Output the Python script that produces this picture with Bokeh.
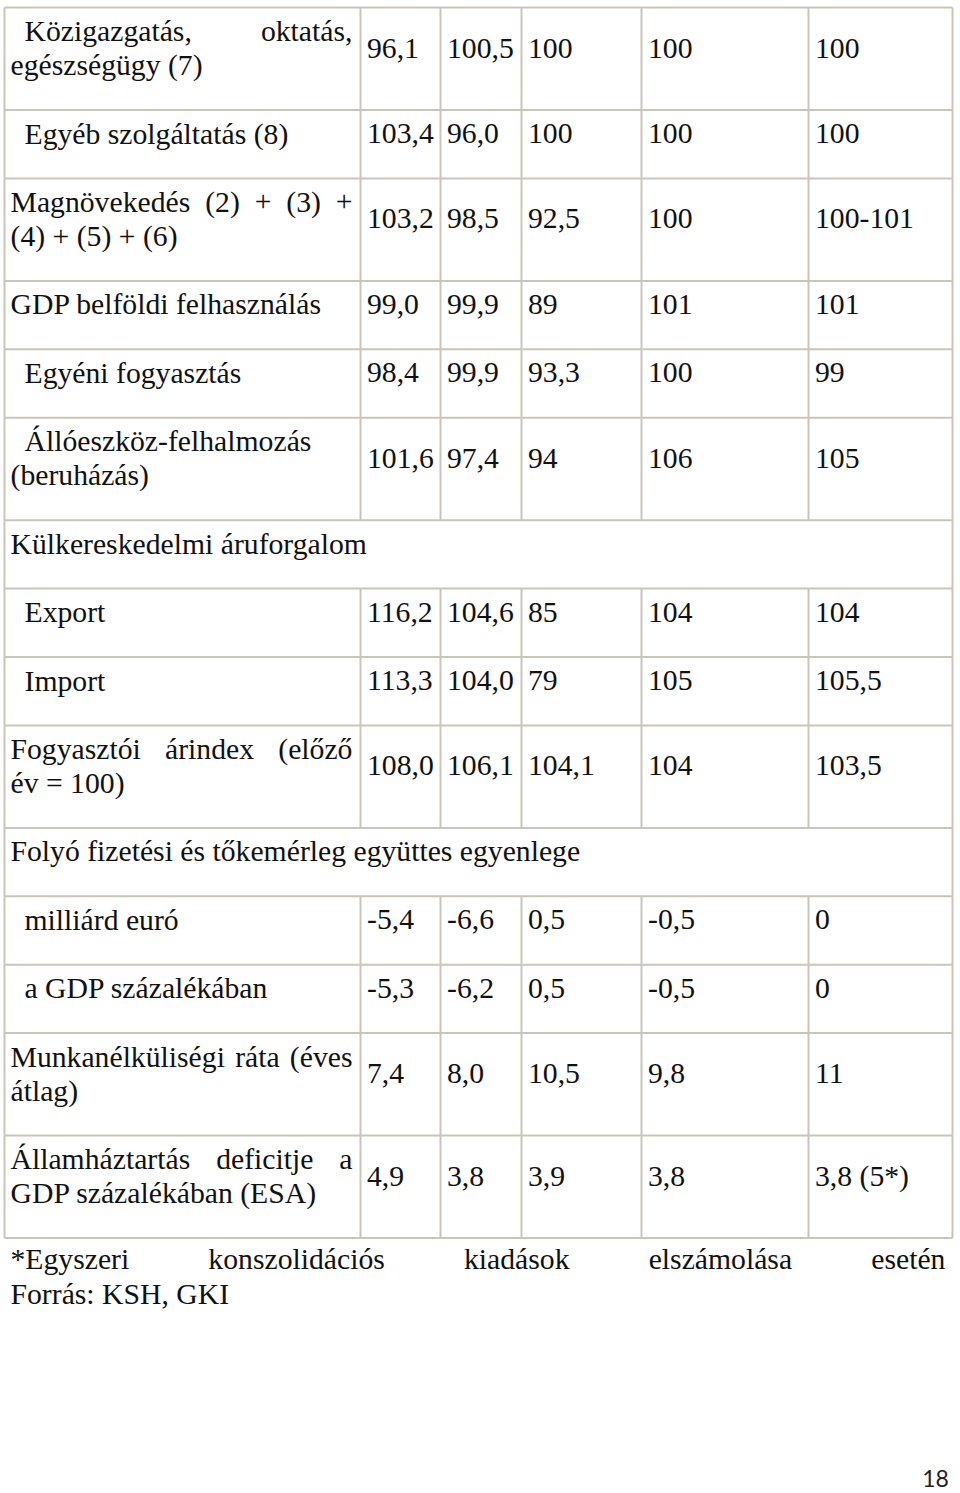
import unicodedata
from bokeh.plotting import figure
from bokeh.models import Range1d, ColumnDataSource
from bokeh.core.properties import value
from bokeh.embed import file_html
from bokeh.resources import INLINE

# ---------------- data ----------------
row_labels = [
    "Közigazgatás, oktatás,\negészségügy (7)",
    "Egyéb szolgáltatás (8)",
    "Magnövekedés (2) + (3) +\n(4) + (5) + (6)",
    "GDP belföldi felhasználás",
    "Egyéni fogyasztás",
    "Állóeszköz-felhalmozás\n(beruházás)",
    "Külkereskedelmi áruforgalom",
    "Export",
    "Import",
    "Fogyasztói árindex (előző\név = 100)",
    "Folyó fizetési és tőkemérleg együttes egyenlege",
    "milliárd euró",
    "a GDP százalékában",
    "Munkanélküliségi ráta (éves\nátlag)",
    "Államháztartás deficitje a\nGDP százalékában (ESA)",
]
row_indent = [1, 1, 0, 0, 1, 1, 0, 1, 1, 0, 0, 1, 1, 0, 0]
row_span = [0, 0, 0, 0, 0, 0, 1, 0, 0, 0, 1, 0, 0, 0, 0]
col_1 = ["96,1", "103,4", "103,2", "99,0", "98,4", "101,6", "", "116,2", "113,3", "108,0", "", "-5,4", "-5,3", "7,4", "4,9"]
col_2 = ["100,5", "96,0", "98,5", "99,9", "99,9", "97,4", "", "104,6", "104,0", "106,1", "", "-6,6", "-6,2", "8,0", "3,8"]
col_3 = ["100", "100", "92,5", "89", "93,3", "94", "", "85", "79", "104,1", "", "0,5", "0,5", "10,5", "3,9"]
col_4 = ["100", "100", "100", "101", "100", "106", "", "104", "105", "104", "", "-0,5", "-0,5", "9,8", "3,8"]
col_5 = ["100", "100", "100-101", "101", "99", "105", "", "104", "105,5", "103,5", "", "0", "0", "11", "3,8 (5*)"]
footnote = "*Egyszeri konszolidációs kiadások elszámolása esetén"
source_note = "Forrás: KSH, GKI"
page_number = "18"

# ---------------- layout ----------------
FONT = "Liberation Serif"
FS = 29.7
col_edges = [4, 360, 440, 521, 641, 808, 952]
table_top = 7
line_h = 34.1
pad_top = 23.5
border_color = "#c9c5b8"

# approximate Times metrics (em) for justified lines
_W = {
    'a': .444, 'b': .5, 'c': .444, 'd': .5, 'e': .444, 'f': .333, 'g': .5, 'h': .5, 'i': .278,
    'j': .278, 'k': .5, 'l': .278, 'm': .778, 'n': .5, 'o': .5, 'p': .5, 'q': .5, 'r': .333,
    's': .389, 't': .278, 'u': .5, 'v': .5, 'w': .722, 'x': .5, 'y': .5, 'z': .444,
    'A': .722, 'E': .611, 'F': .556, 'G': .722, 'M': .889, 'K': .722, 'S': .556, 'H': .722,
    'I': .333, 'P': .556, 'D': .722, 'C': .667, 'B': .667, 'L': .611, 'N': .722, 'O': .722,
    '(': .333, ')': .333, '+': .564, ',': .25, '*': .5, ' ': .25, '-': .333, '=': .564,
    ':': .278, '.': .25,
}


def text_width(s, fs):
    tot = 0.0
    for ch in s:
        base = unicodedata.normalize('NFD', ch)[0]
        tot += _W.get(base, 0.5)
    return tot * fs


def justify(line, x0, x1, fs):
    words = line.split(" ")
    if len(words) == 1:
        return [(x0, line)]
    widths = [text_width(w, fs) for w in words]
    gap = (x1 - x0 - sum(widths)) / (len(words) - 1)
    out, x = [], x0
    for w, wd in zip(words, widths):
        out.append((x, w))
        x += wd + gap
    return out


xs, ys, ts = [], [], []
hx0, hx1, hy0, hy1 = [], [], [], []
vx0, vx1, vy0, vy1 = [], [], [], []

top = table_top
cols = [col_1, col_2, col_3, col_4, col_5]
for i, lab in enumerate(row_labels):
    lines = lab.split("\n")
    n = len(lines)
    h = line_h * n + 34.3
    bottom = top + h
    # label text
    for k, ln in enumerate(lines):
        x0 = col_edges[0] + 6 + (14 if (row_indent[i] and k == 0) else 0)
        y = top + pad_top + k * line_h
        if n > 1 and k < n - 1:
            for (x, w) in justify(ln, x0, col_edges[1] - 8, FS):
                xs.append(x); ys.append(y); ts.append(w)
        else:
            xs.append(x0); ys.append(y); ts.append(ln)
    # values
    vy = top + pad_top + (n - 1) * line_h / 2
    for c in range(5):
        v = cols[c][i]
        if v:
            xs.append(col_edges[c + 1] + 6.5); ys.append(vy); ts.append(v)
    # borders
    hx0.append(col_edges[0]); hx1.append(col_edges[-1]); hy0.append(top); hy1.append(top)
    edges = [col_edges[0], col_edges[-1]] if row_span[i] else col_edges
    for e in edges:
        vx0.append(e); vx1.append(e); vy0.append(top); vy1.append(bottom)
    top = bottom
hx0.append(col_edges[0]); hx1.append(col_edges[-1]); hy0.append(top); hy1.append(top)

# footer
fy = top + 21
for (x, w) in justify(footnote, 10, 945, FS):
    xs.append(x); ys.append(fy); ts.append(w)
xs.append(10); ys.append(fy + 35); ts.append(source_note)

# ---------------- figure ----------------
p = figure(width=960, height=1493, output_backend="svg", toolbar_location=None,
           x_range=Range1d(0, 960), y_range=Range1d(1493, 0),
           x_axis_location=None, y_axis_location=None, min_border=0)
p.grid.visible = False
p.outline_line_color = None
p.background_fill_color = "white"

p.segment(x0=hx0, y0=hy0, x1=hx1, y1=hy1, line_color=border_color, line_width=2)
p.segment(x0=vx0, y0=vy0, x1=vx1, y1=vy1, line_color=border_color, line_width=2)

src = ColumnDataSource(dict(x=xs, y=ys, t=ts))
p.text(x="x", y="y", text="t", source=src, text_font=value(FONT),
       text_font_size=f"{FS}px", text_baseline="middle", text_align="left",
       text_color="#111111")

p.text(x=[935], y=[1478], text=[page_number], text_font=value("Lato"),
       text_font_size="23px", text_baseline="middle", text_align="center",
       text_color="#222222")

open("out.html", "w").write(file_html(p, INLINE))
